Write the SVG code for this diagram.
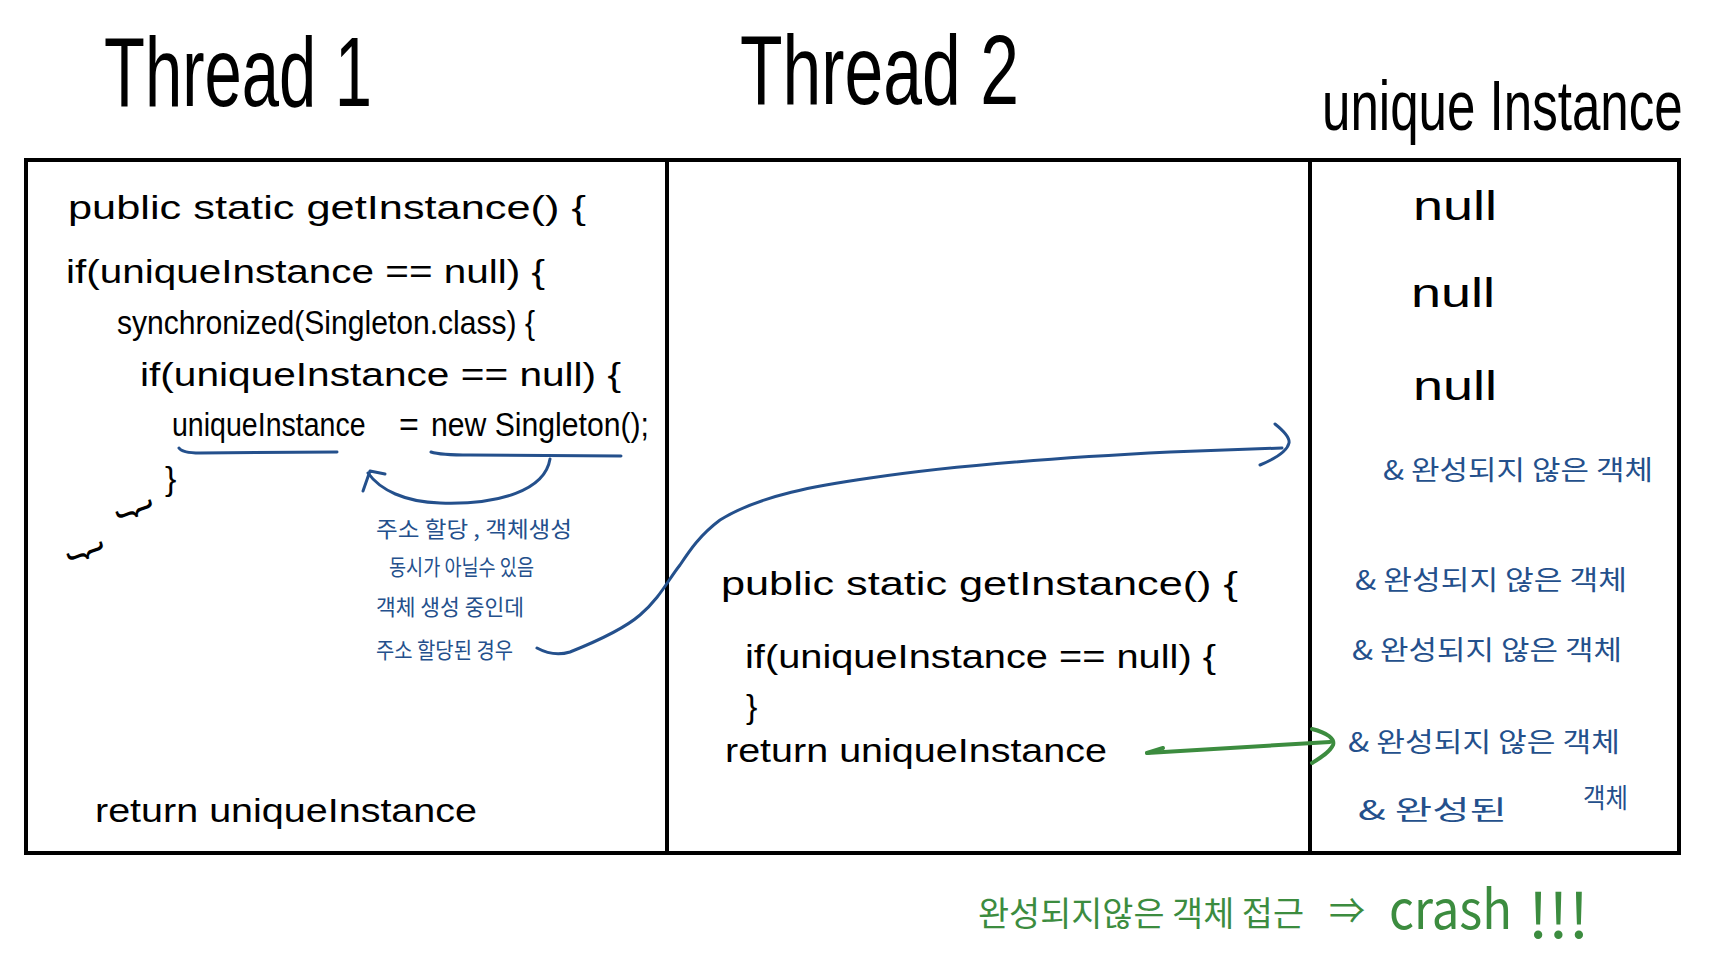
<svg xmlns="http://www.w3.org/2000/svg" width="1718" height="978" viewBox="0 0 1718 978">
<style>
.bg{fill:#ffffff}
.box{fill:none;stroke:#000;stroke-width:4}
.t{font-family:"Liberation Sans","Noto Sans CJK KR",sans-serif;fill:#000}
.title{font-size:98px}
.code{font-size:34px}
.blue{font-family:"Noto Sans CJK KR","Liberation Sans",sans-serif;fill:#24508c}
.green{font-family:"Noto Sans CJK KR","Liberation Sans",sans-serif;fill:#3c8c3f}
.bl{fill:none;stroke:#24508c;stroke-width:3;stroke-linecap:round;stroke-linejoin:round}
.gl{fill:none;stroke:#3c8c3f;stroke-width:4;stroke-linecap:round;stroke-linejoin:round}
</style>
<rect class="bg" x="0" y="0" width="1718" height="978"/>

<g id="titles">
<text class="t title" x="104" y="106" textLength="268" lengthAdjust="spacingAndGlyphs">Thread 1</text>
<text class="t title" x="740" y="104" textLength="279" lengthAdjust="spacingAndGlyphs">Thread 2</text>
<text class="t" font-size="70" transform="translate(1322,130) scale(0.73,1)" x="0" y="0">unique Instance</text>
</g>

<g id="frame">
<rect class="box" x="26" y="160" width="1653" height="693"/>
<line class="box" x1="667" y1="160" x2="667" y2="853"/>
<line class="box" x1="1310" y1="160" x2="1310" y2="853"/>
</g>

<g id="thread1">
<text class="t code" x="68" y="219" textLength="518" lengthAdjust="spacingAndGlyphs">public static getInstance() {</text>
<text class="t code" x="66" y="283" textLength="479" lengthAdjust="spacingAndGlyphs">if(uniqueInstance == null) {</text>
<text class="t code" x="117" y="334" font-size="31" textLength="418" lengthAdjust="spacingAndGlyphs">synchronized(Singleton.class) {</text>
<text class="t code" x="140" y="386" textLength="481" lengthAdjust="spacingAndGlyphs">if(uniqueInstance == null) {</text>
<text class="t code" transform="translate(172,436) scale(0.84,1)" x="0" y="0">uniqueInstance</text>
<text class="t code" x="399" y="436">=</text>
<text class="t code" x="431" y="436" textLength="218" lengthAdjust="spacingAndGlyphs">new Singleton();</text>
<text class="t code" x="165" y="490">}</text>
<text class="t" font-size="40" transform="translate(137,512) rotate(70)" x="-8" y="12">}</text>
<text class="t" font-size="40" transform="translate(88,554) rotate(70)" x="-8" y="12">}</text>
<text class="t code" x="95" y="822" textLength="382" lengthAdjust="spacingAndGlyphs">return  uniqueInstance</text>
</g>

<g id="note">
<text class="blue" font-size="22" x="376" y="537" textLength="196" lengthAdjust="spacingAndGlyphs">주소 할당 , 객체생성</text>
<text class="blue" font-size="22" x="389" y="575" textLength="145" lengthAdjust="spacingAndGlyphs">동시가 아닐수 있음</text>
<text class="blue" font-size="22" x="376" y="615" textLength="148" lengthAdjust="spacingAndGlyphs">객체 생성 중인데</text>
<text class="blue" font-size="22" x="376" y="658" textLength="137" lengthAdjust="spacingAndGlyphs">주소 할당된 경우</text>
</g>

<g id="thread2">
<text class="t code" x="721" y="595" textLength="517" lengthAdjust="spacingAndGlyphs">public static getInstance() {</text>
<text class="t code" x="745" y="668" textLength="471" lengthAdjust="spacingAndGlyphs">if(uniqueInstance == null) {</text>
<text class="t code" x="746" y="718">}</text>
<text class="t code" x="725" y="762" textLength="382" lengthAdjust="spacingAndGlyphs">return  uniqueInstance</text>
</g>

<g id="instance">
<text class="t" font-size="40" x="1413" y="220" textLength="84" lengthAdjust="spacingAndGlyphs">null</text>
<text class="t" font-size="40" x="1411" y="307" textLength="84" lengthAdjust="spacingAndGlyphs">null</text>
<text class="t" font-size="40" x="1413" y="400" textLength="84" lengthAdjust="spacingAndGlyphs">null</text>
<text class="blue" font-size="27" x="1383" y="480" textLength="270" lengthAdjust="spacingAndGlyphs">&amp; 완성되지 않은 객체</text>
<text class="blue" font-size="27" x="1355" y="590" textLength="272" lengthAdjust="spacingAndGlyphs">&amp; 완성되지 않은 객체</text>
<text class="blue" font-size="27" x="1352" y="660" textLength="270" lengthAdjust="spacingAndGlyphs">&amp; 완성되지 않은 객체</text>
<text class="blue" font-size="27" x="1348" y="752" textLength="272" lengthAdjust="spacingAndGlyphs">&amp; 완성되지 않은 객체</text>
<text class="blue" font-size="27" x="1358" y="820" textLength="149" lengthAdjust="spacingAndGlyphs">&amp; 완성된</text>
<text class="blue" font-size="27" x="1583" y="808" textLength="45" lengthAdjust="spacingAndGlyphs">객체</text>
</g>

<g id="crash">
<text class="green" font-size="34" x="978" y="926" textLength="326" lengthAdjust="spacingAndGlyphs">완성되지않은 객체 접근</text>
<text class="green" font-size="36" x="1329" y="924">⇒</text>
<text class="green" font-size="54" x="1389" y="929" textLength="123" lengthAdjust="spacingAndGlyphs">crash</text>
<text class="green" font-size="62" x="1528" y="938" textLength="61" lengthAdjust="spacingAndGlyphs">!!!</text>
</g>

<g id="connectors">
<path class="bl" d="M179,448 Q182,453 200,453 L337,452"/>
<path class="bl" d="M431,452 Q440,455 470,455 L621,456"/>
<path class="bl" d="M550,459 C545,490 500,505 440,503 C405,502 380,490 368,473"/>
<path class="bl" d="M385,474 L370,471 L363,491"/>
<path class="bl" d="M537,648 C548,654 560,655 570,652 C600,640 625,628 640,615 C660,598 668,580 680,565 C690,550 700,535 720,520 C760,495 820,485 870,478 C950,466 1050,458 1170,452 L1282,448"/>
<path class="bl" d="M1275,424 C1285,432 1290,438 1289,443 C1287,452 1272,460 1260,465"/>
<path class="gl" d="M1147,753 L1330,742"/>
<path class="gl" d="M1147,753 L1163,748"/>
<path class="gl" d="M1312,729 C1328,733 1335,739 1333,745 C1330,752 1320,758 1312,763"/>
</g>
</svg>
